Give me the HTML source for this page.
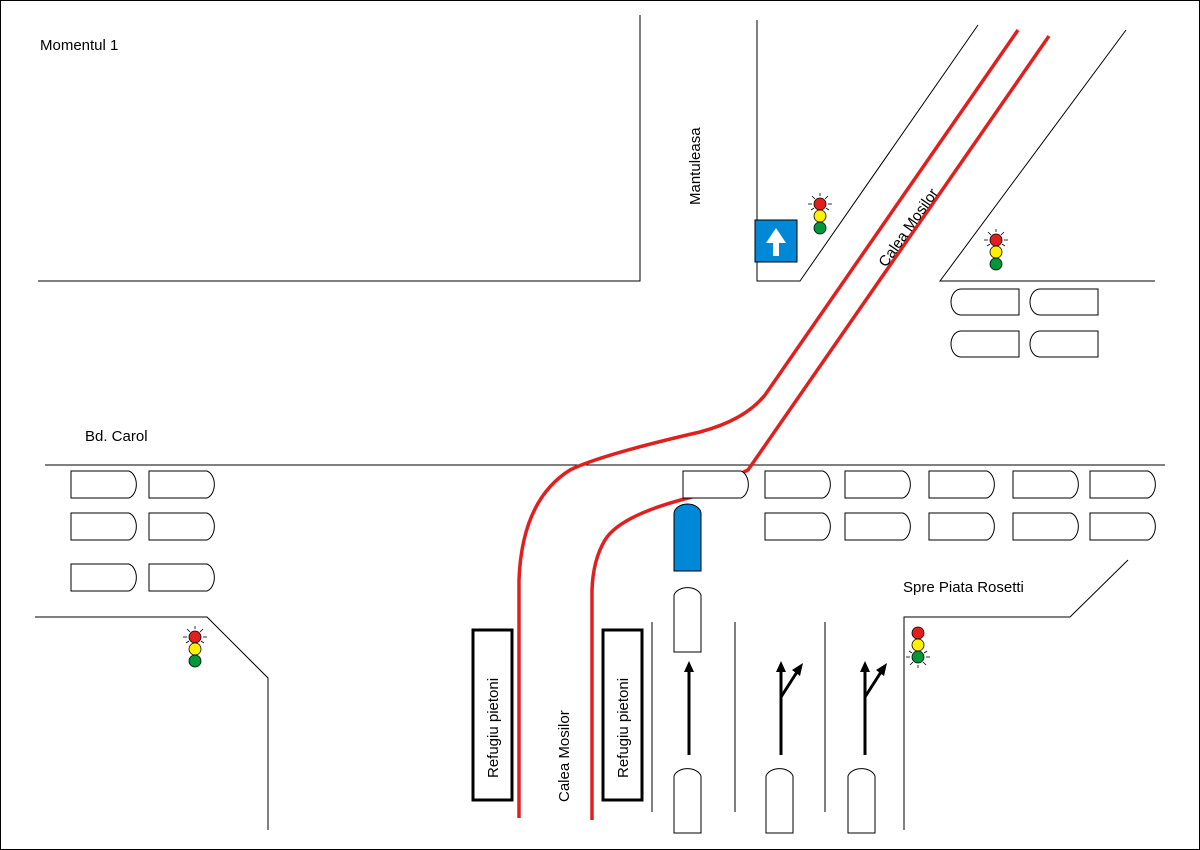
<!DOCTYPE html>
<html><head><style>body{margin:0;background:#fff}svg{display:block}</style></head><body>
<svg width="1200" height="850" viewBox="0 0 1200 850" xmlns="http://www.w3.org/2000/svg" font-family="Liberation Sans, Arial, sans-serif">
<defs>
<g id="carR"><path d="M0 0 H58 A10 14 0 0 1 58 27 H0 Z" fill="#fff" stroke="#000" stroke-width="1"/></g>
<g id="carL"><path d="M68 0 H10 A10 13 0 0 0 10 26 H68 Z" fill="#fff" stroke="#000" stroke-width="1"/></g>
<g id="carU"><path d="M0 67 V10 A14 10 0 0 1 27 10 V67 Z" fill="#fff" stroke="#000" stroke-width="1"/></g>
<g id="rays" stroke="#000" stroke-width="0.8">
<line x1="-8" y1="-8" x2="-5" y2="-5"/><line x1="8" y1="-8" x2="5" y2="-5"/><line x1="0" y1="-11" x2="0" y2="-8"/><line x1="-12" y1="0" x2="-8" y2="0"/><line x1="12" y1="0" x2="8" y2="0"/><line x1="-9" y1="6" x2="-6" y2="4"/><line x1="9" y1="6" x2="6" y2="4"/>
</g>
</defs>
<rect x="0.5" y="0.5" width="1199" height="849" fill="#fff" stroke="#000"/>
<g stroke="#000" stroke-width="1" fill="none">
<polyline points="38,281 640,281 640,15"/>
<polyline points="757,20 757,281 800,281 978,25"/>
<polyline points="1126,30 940,281 1155,281"/>
<line x1="45" y1="465" x2="1165" y2="465"/>
<polyline points="35,617 207,617 268,678 268,830"/>
<polyline points="904,830 904,617 1070,617 1128,560"/>
<line x1="652" y1="622" x2="652" y2="812"/>
<line x1="735" y1="622" x2="735" y2="812"/>
<line x1="825" y1="622" x2="825" y2="812"/>
</g>
<g stroke="#e0201f" stroke-width="3.5" fill="none">
<path d="M1018 30 L765 395 Q745 420 700 432 Q600 455 570 470 Q522 500 519 580 V818"/>
<path d="M1049 36 L748 470 L692 497 Q620 515 605 540 Q593 560 592 590 V820"/>
</g>
<use href="#carR" x="71" y="471"/><use href="#carR" x="149" y="471"/>
<use href="#carR" x="71" y="513"/><use href="#carR" x="149" y="513"/>
<use href="#carR" x="71" y="564"/><use href="#carR" x="149" y="564"/>
<use href="#carR" x="683" y="471"/>
<use href="#carR" x="765" y="471"/><use href="#carR" x="845" y="471"/><use href="#carR" x="929" y="471"/><use href="#carR" x="1013" y="471"/><use href="#carR" x="1090" y="471"/>
<use href="#carR" x="765" y="513"/><use href="#carR" x="845" y="513"/><use href="#carR" x="929" y="513"/><use href="#carR" x="1013" y="513"/><use href="#carR" x="1090" y="513"/>
<use href="#carL" x="951" y="289"/><use href="#carL" x="1030" y="289"/>
<use href="#carL" x="951" y="331"/><use href="#carL" x="1030" y="331"/>
<path d="M674 571 V514 A13.5 10 0 0 1 701 514 V571 Z" fill="#0088d8" stroke="#000"/>
<use href="#carU" x="674" y="585"/>
<use href="#carU" x="674" y="766"/><use href="#carU" x="766" y="766"/><use href="#carU" x="848" y="766"/>
<g stroke="#000" stroke-width="3" fill="none">
<line x1="689" y1="755" x2="689" y2="672"/>
<line x1="781" y1="755" x2="781" y2="672"/><line x1="781" y1="697" x2="797" y2="672"/>
<line x1="865" y1="755" x2="865" y2="672"/><line x1="865" y1="697" x2="881" y2="672"/>
</g>
<g fill="#000">
<polygon points="689,661 684,672 694,672"/>
<polygon points="781,661 776,672 786,672"/>
<polygon points="865,661 860,672 870,672"/>
<polygon points="803,663 792,670 800,676"/>
<polygon points="887,663 876,670 884,676"/>
</g>
<rect x="755" y="220" width="42" height="42" fill="#0088d8" stroke="#000"/>
<polygon points="776,228 766,243 773,243 773,256 779,256 779,243 786,243" fill="#fff"/>
<g stroke="#000" stroke-width="0.8">
<use href="#rays" x="820" y="204"/>
<circle cx="820" cy="204" r="6" fill="#e0201f"/><circle cx="820" cy="216" r="6" fill="#ffef00"/><circle cx="820" cy="228" r="6" fill="#00963a"/>
<use href="#rays" x="996" y="240"/>
<circle cx="996" cy="240" r="6" fill="#e0201f"/><circle cx="996" cy="252" r="6" fill="#ffef00"/><circle cx="996" cy="264" r="6" fill="#00963a"/>
<use href="#rays" x="195" y="637"/>
<circle cx="195" cy="637" r="6" fill="#e0201f"/><circle cx="195" cy="649" r="6" fill="#ffef00"/><circle cx="195" cy="661" r="6" fill="#00963a"/>
<use href="#rays" x="918" y="657" transform="rotate(180 918 657)"/>
<circle cx="918" cy="633" r="6" fill="#e0201f"/><circle cx="918" cy="645" r="6" fill="#ffef00"/><circle cx="918" cy="657" r="6" fill="#00963a"/>
</g>
<rect x="473" y="630" width="39" height="170" fill="none" stroke="#000" stroke-width="3"/>
<rect x="603" y="630" width="39" height="170" fill="none" stroke="#000" stroke-width="3"/>
<g font-size="15" fill="#000">
<text x="40" y="50">Momentul 1</text>
<text x="85" y="441">Bd. Carol</text>
<text x="903" y="592">Spre Piata Rosetti</text>
<text transform="translate(700,205) rotate(-90)">Mantuleasa</text>
<text transform="translate(886,268) rotate(-55)">Calea Mosilor</text>
<text transform="translate(569,802) rotate(-90)">Calea Mosilor</text>
<text transform="translate(498,778) rotate(-90)">Refugiu pietoni</text>
<text transform="translate(628,778) rotate(-90)">Refugiu pietoni</text>
</g>
</svg>
</body></html>
